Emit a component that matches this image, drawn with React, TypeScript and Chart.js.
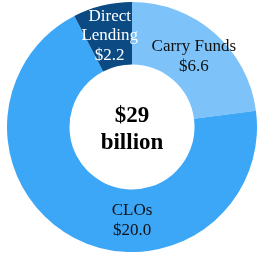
import React, { useEffect, useRef } from "react";
import { Chart, registerables } from "chart.js";

Chart.register(...registerables);

const categories = ["Carry Funds", "CLOs", "Direct Lending"];
const values = [6.6, 20.0, 2.2];
const valueLabels = ["$6.6", "$20.0", "$2.2"];
const labelLines = [["Carry Funds"], ["CLOs"], ["Direct", "Lending"]];
const colors = ["#7DC3FA", "#3CA6F7", "#0B4A82"];
const labelColors = ["#111111", "#111111", "#FFFFFF"];
const centerLines = ["$29", "billion"];

const labelPlugin = {
  id: "sliceLabels",
  afterDatasetsDraw(chart: any) {
    const ctx = chart.ctx;
    const meta = chart.getDatasetMeta(0);
    ctx.save();
    ctx.textAlign = "center";
    ctx.textBaseline = "middle";
    let cx = 0, cy = 0;
    meta.data.forEach((arc: any, i: number) => {
      const p = arc.getProps(["x", "y", "startAngle", "endAngle", "innerRadius", "outerRadius"], true);
      cx = p.x; cy = p.y;
      let ang = (p.startAngle + p.endAngle) / 2;
      if (categories[i] === "CLOs") ang = Math.PI / 2;
      const r = (p.innerRadius + p.outerRadius) / 2;
      const lx = p.x + Math.cos(ang) * r;
      const ly = p.y + Math.sin(ang) * r;
      const lines = [...labelLines[i], valueLabels[i]];
      const lh = 19.5;
      ctx.font = "17px 'Liberation Serif'";
      ctx.fillStyle = labelColors[i];
      lines.forEach((t, k) => {
        ctx.fillText(t, lx, ly + (k - (lines.length - 1) / 2) * lh);
      });
    });
    ctx.font = "bold 23px 'Liberation Serif'";
    ctx.fillStyle = "#000000";
    ctx.fillText(centerLines[0], cx, cy - 11);
    ctx.fillText(centerLines[1], cx, cy + 16);
    ctx.restore();
  },
};

export default function App() {
  const ref = useRef<HTMLCanvasElement>(null);
  useEffect(() => {
    document.body.style.margin = "0";
    const chart = new Chart(ref.current!, {
      type: "doughnut",
      data: {
        labels: categories,
        datasets: [
          {
            data: values,
            backgroundColor: colors,
            borderWidth: 0,
          },
        ],
      },
      options: {
        animation: false,
        responsive: false,
        cutout: "50%",
        plugins: { legend: { display: false }, tooltip: { enabled: false } },
        layout: { padding: 0 },
      },
      plugins: [labelPlugin],
    });
    return () => chart.destroy();
  }, []);
  return (
    <div style={{ position: "fixed", left: 7, top: 2, width: 250, height: 250 }}>
      <canvas ref={ref} width={250} height={250} style={{ width: 250, height: 250 }} />
    </div>
  );
}
